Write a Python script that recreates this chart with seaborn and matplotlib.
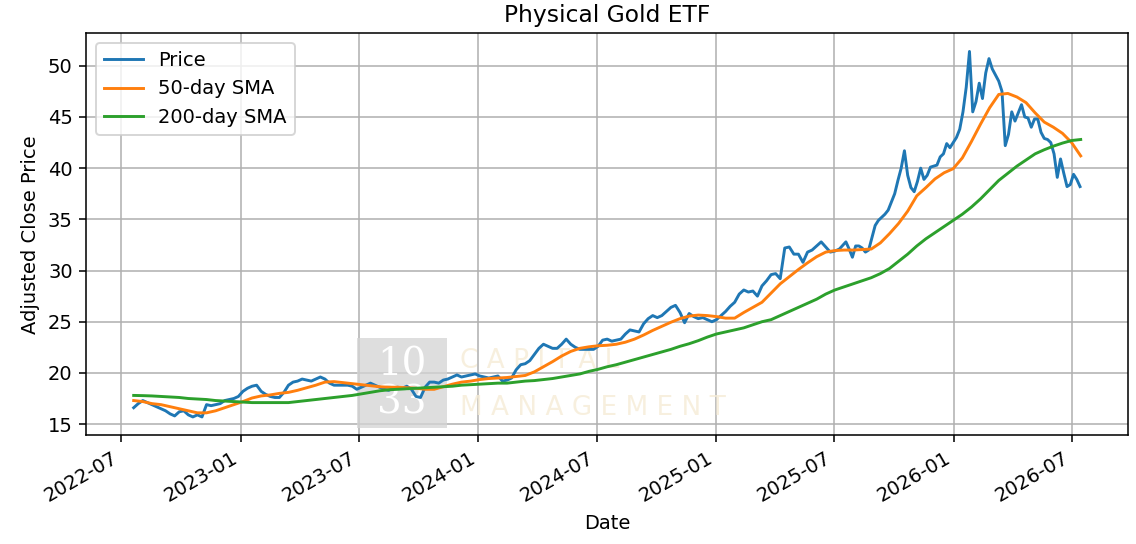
import pandas as pd
import matplotlib
matplotlib.use("Agg")
import matplotlib.pyplot as plt
import matplotlib.dates as mdates
from matplotlib.patches import Rectangle
import seaborn as sns

# weekly closes from 2022-07-20
price_weekly = [
    16.6, 17.0, 17.3, 17.1, 16.9, 16.7, 16.5, 16.3, 16.0, 15.8,
    16.2, 16.3, 15.9, 15.7, 15.9, 15.7, 16.9, 16.8, 16.9, 17.0,
    17.3, 17.4, 17.5, 17.7, 18.2, 18.5, 18.7, 18.8, 18.2, 17.9,
    17.7, 17.6, 17.6, 18.1, 18.8, 19.1, 19.2, 19.4, 19.3, 19.2,
    19.4, 19.6, 19.4, 19.0, 18.8, 18.8, 18.8, 18.8, 18.7, 18.4,
    18.6, 18.8,
    19.0, 18.8, 18.6, 18.4, 18.3, 18.5, 18.6, 18.5, 18.7, 18.4,
    17.7, 17.6, 18.6, 19.1, 19.1, 19.0, 19.3, 19.4, 19.6, 19.8,
    19.6, 19.7, 19.8, 19.9, 19.7, 19.6, 19.5, 19.6, 19.7, 19.2,
    19.3, 19.5, 20.3, 20.8, 20.9, 21.2, 21.8, 22.4, 22.8, 22.6,
    22.4, 22.4, 22.8, 23.3, 22.8, 22.5, 22.3, 22.3, 22.3,
    22.3, 22.6, 23.2, 23.3, 23.1, 23.2, 23.3, 23.8, 24.2, 24.1,
    24.0, 24.8, 25.3, 25.6, 25.4, 25.6, 26.0, 26.4, 26.6, 25.9,
    24.9, 25.8, 25.5, 25.3, 25.4, 25.2, 25.0, 25.2, 25.6, 26.0,
    26.5, 26.9, 27.7, 28.1, 27.9, 28.0, 27.5, 28.5, 29.0, 29.6,
    29.7, 29.2, 32.2, 32.3, 31.6, 31.6, 30.8, 31.8, 32.0, 32.4,
    32.8, 32.3, 31.8, 31.9, 32.1, 32.6,
]

# 5-day closes from 2025-07-19
price_5day = [
    32.8, 32.1, 31.3, 32.4, 32.4, 32.2, 31.8, 32.0, 33.2, 34.4,
    34.9, 35.2, 35.5, 35.9, 36.7, 37.5, 38.8, 40.0, 41.7, 39.3,
    38.1, 37.7, 38.7, 40.0, 38.9, 39.3, 40.1, 40.2, 40.3, 41.1,
    41.4, 42.4, 42.0, 42.5, 43.0, 43.8, 45.5, 47.9, 51.4, 45.5,
    46.5, 48.3, 46.8, 49.3, 50.7, 49.7, 49.1, 48.5, 47.5, 42.2,
    43.3, 45.5, 44.6, 45.4, 46.2, 45.0, 44.9, 44.0, 44.8, 44.8,
    43.5, 42.9, 42.8, 42.5, 41.4, 39.1, 40.9, 39.5, 38.2, 38.4,
    39.4, 38.9, 38.2,
]

# moving averages, every 14 days from 2022-07-20
sma50 = [
    17.3, 17.2, 17.0, 16.9, 16.7, 16.5, 16.3, 16.1, 16.1, 16.3,
    16.6, 16.9, 17.2, 17.55, 17.75, 17.85, 18.0, 18.1, 18.3, 18.55,
    18.8, 19.1, 19.15, 19.05, 18.95, 18.85, 18.75, 18.65, 18.6, 18.6,
    18.55, 18.5, 18.4, 18.4, 18.65, 18.9, 19.1, 19.2, 19.35, 19.45,
    19.5, 19.55, 19.65, 19.75, 20.1, 20.6, 21.1, 21.65, 22.1, 22.4,
    22.55, 22.65, 22.7, 22.8, 23.0, 23.3, 23.7, 24.15, 24.55, 24.95,
    25.3, 25.55, 25.65, 25.6, 25.5, 25.35, 25.35, 25.9, 26.4, 26.9,
    27.8, 28.7, 29.4, 30.1, 30.75, 31.35, 31.8, 31.95, 32.0, 32.0,
    32.05, 32.1, 32.7, 33.6, 34.6, 35.8, 37.3, 38.1, 38.95, 39.55,
    39.95, 41.0, 42.6, 44.3, 45.9, 47.2, 47.3, 46.95, 46.4, 45.4,
    44.5, 44.0, 43.4, 42.5, 41.2,
]
sma200 = [
    17.8, 17.78, 17.75, 17.7, 17.65, 17.6, 17.5, 17.45, 17.4, 17.3,
    17.25, 17.2, 17.15, 17.1, 17.1, 17.1, 17.1, 17.1, 17.2, 17.3,
    17.4, 17.5, 17.6, 17.7, 17.8, 17.95, 18.1, 18.25, 18.35, 18.4,
    18.45, 18.5, 18.55, 18.6, 18.65, 18.7, 18.8, 18.85, 18.9, 18.95,
    19.0, 19.0, 19.1, 19.2, 19.25, 19.35, 19.45, 19.6, 19.75, 19.9,
    20.15, 20.35, 20.6, 20.8, 21.05, 21.3, 21.55, 21.8, 22.05, 22.3,
    22.6, 22.85, 23.15, 23.5, 23.8, 24.0, 24.2, 24.4, 24.7, 25.0,
    25.2, 25.6, 26.0, 26.4, 26.8, 27.2, 27.7, 28.1, 28.4, 28.7,
    29.0, 29.3, 29.7, 30.2, 30.9, 31.6, 32.4, 33.1, 33.7, 34.3,
    34.9, 35.5, 36.2, 37.0, 37.9, 38.8, 39.5, 40.2, 40.8, 41.4,
    41.8, 42.15, 42.45, 42.7, 42.8,
]

price = pd.concat([
    pd.Series(price_weekly, index=pd.date_range("2022-07-20", periods=len(price_weekly), freq="7D")),
    pd.Series(price_5day, index=pd.date_range("2025-07-19", periods=len(price_5day), freq="5D")),
])
sma_dates = pd.date_range("2022-07-20", periods=len(sma50), freq="14D")

fig, ax = plt.subplots(figsize=(1136 / 140, 544 / 140), dpi=140)
fig.subplots_adjust(left=0.076, right=0.993, top=0.939, bottom=0.206)

sns.lineplot(x=price.index, y=price.values, ax=ax, label="Price", color="C0", zorder=3)
sns.lineplot(x=sma_dates, y=sma50, ax=ax, label="50-day SMA", color="C1", zorder=3)
sns.lineplot(x=sma_dates, y=sma200, ax=ax, label="200-day SMA", color="C2", zorder=3)

ax.set_title("Physical Gold ETF")
ax.set_xlabel("Date")
ax.set_ylabel("Adjusted Close Price")
ax.grid(True)
ax.legend(loc="upper left")

ax.xaxis.set_major_locator(mdates.MonthLocator(bymonth=[1, 7]))
ax.xaxis.set_major_formatter(mdates.DateFormatter("%Y-%m"))
fig.autofmt_xdate()

# faint watermark
ax.add_patch(Rectangle((0.260, 0.0175), 0.0865, 0.2255, transform=ax.transAxes,
                       facecolor="#d4d4d4", alpha=0.75, edgecolor="none", zorder=2.5))
ax.text(0.303, 0.175, "10", transform=ax.transAxes, ha="center", va="center",
        fontsize=20, family="DejaVu Serif", color="white", zorder=2.6)
ax.text(0.303, 0.080, "33", transform=ax.transAxes, ha="center", va="center",
        fontsize=20, family="DejaVu Serif", color="white", zorder=2.6)
ax.text(0.359, 0.185, "C A P I T A L", transform=ax.transAxes, ha="left", va="center",
        fontsize=13.5, color="#f6ecd6", alpha=0.8, zorder=2.6)
ax.text(0.359, 0.068, "M A N A G E M E N T", transform=ax.transAxes, ha="left", va="center",
        fontsize=13.5, color="#f6ecd6", alpha=0.8, zorder=2.6)

fig.savefig("out.png", dpi=140)
